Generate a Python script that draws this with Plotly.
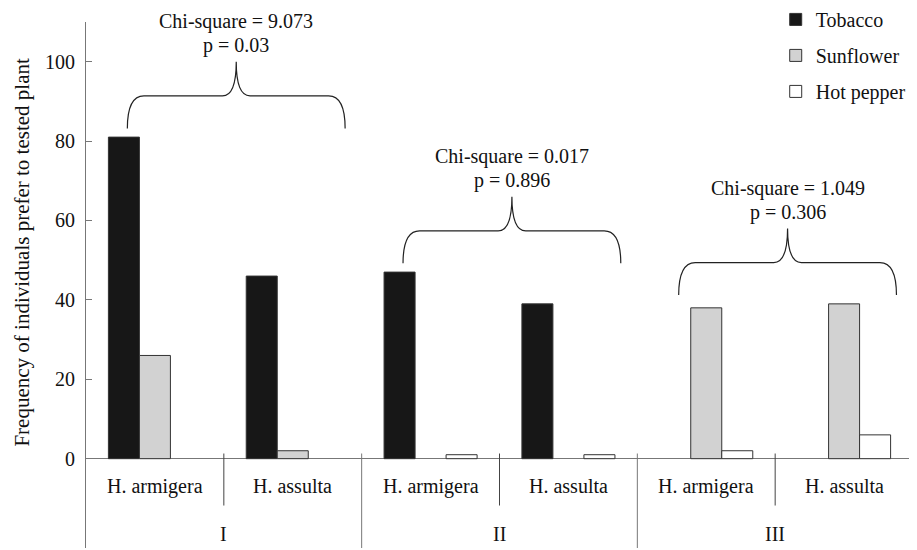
import plotly.graph_objects as go

# ---- data ----
groups = ["I", "II", "III"]
species = ["H. armigera", "H. assulta"]
plants = ["Tobacco", "Sunflower", "Hot pepper"]
tobacco = [81, 46, 47, 39, 0, 0]
sunflower = [26, 2, 0, 0, 38, 39]
hot_pepper = [0, 0, 1, 1, 2, 6]
chi_square = ["9.073", "0.017", "1.049"]
p_values = ["0.03", "0.896", "0.306"]
y_ticks = [0, 20, 40, 60, 80, 100]
y_title = "Frequency of individuals prefer to tested plant"

# ---- styling ----
FONT = "Times New Roman, Liberation Serif, DejaVu Serif, serif"
AX = "#777777"
TXT = "#111111"
fills = ["#171717", "#d2d2d2", "#ffffff"]
series = [tobacco, sunflower, hot_pepper]

n_cat = len(groups) * len(species)
xs = list(range(n_cat))

fig = go.Figure()
for name, vals, col in zip(plants, series, fills):
    fig.add_trace(go.Bar(
        x=xs, y=[v if v > 0 else None for v in vals], name=name,
        legendgroup=name,
        marker=dict(color=col, line=dict(color="#333333", width=1)),
    ))

shapes = []
annotations = []
YLO, YHI = -22.5, 110


def tfont(size=20):
    return dict(family=FONT, size=size, color=TXT)


# dividers between species (short) and groups (long)
for i in range(n_cat - 1):
    b = i + 0.5
    if (i + 1) % len(species) == 0:
        shapes.append(dict(type="line", xref="x", yref="y", x0=b, x1=b, y0=1.3, y1=YLO,
                           line=dict(color=AX, width=1)))
    else:
        shapes.append(dict(type="line", xref="x", yref="y", x0=b, x1=b, y0=1.3, y1=-11.8,
                           line=dict(color="#444444", width=1)))
shapes.append(dict(type="line", xref="x", yref="y", x0=n_cat - 0.5, x1=n_cat - 0.5, y0=1.3, y1=YLO,
                   line=dict(color=AX, width=1)))

# category labels
for i in range(n_cat):
    annotations.append(dict(x=i, y=-7.0, xref="x", yref="y", text=species[i % len(species)],
                            showarrow=False, font=tfont()))
for g, gname in enumerate(groups):
    c = g * len(species) + (len(species) - 1) / 2
    annotations.append(dict(x=c, y=-18.9, xref="x", yref="y", text=gname,
                            showarrow=False, font=tfont()))

# braces with statistics
for g in range(len(groups)):
    s = g * len(species) - 0.5
    idx = range(g * len(species), (g + 1) * len(species))
    top = max(max(ser[i] for ser in series) for i in idx)
    yb = top + 2.2
    yh = yb + 8.2
    yt = yb + 16.8
    x0, x1 = s + 0.3, s + 1.88
    xc = (x0 + x1) / 2
    r, r2 = 0.12, 0.10
    path = (f"M {x0},{yb} Q {x0},{yh} {x0 + r},{yh} L {xc - r2},{yh} "
            f"Q {xc},{yh} {xc},{yt} Q {xc},{yh} {xc + r2},{yh} "
            f"L {x1 - r},{yh} Q {x1},{yh} {x1},{yb}")
    shapes.append(dict(type="path", xref="x", yref="y", path=path,
                       line=dict(color="#222222", width=1.2)))
    annotations.append(dict(x=xc, y=yt + 4.0, xref="x", yref="y", text=f"p = {p_values[g]}",
                            showarrow=False, font=tfont()))
    annotations.append(dict(x=xc, y=yt + 4.0, yshift=24, xref="x", yref="y",
                            text=f"Chi-square = {chi_square[g]}",
                            showarrow=False, font=tfont()))

# y-axis title centred on the positive part of the axis
annotations.append(dict(x=-0.077, y=52, xref="paper", yref="y", text=y_title,
                        textangle=-90, xanchor="center", yanchor="middle",
                        showarrow=False, font=tfont(21)))

# the page body has an 8px margin, so the figure is sized/offset to compensate
fig.update_layout(
    width=909, height=542,
    margin=dict(l=78, r=4, t=14, b=2, autoexpand=False),
    paper_bgcolor="white", plot_bgcolor="white",
    barmode="group", bargap=0.325, bargroupgap=0,
    font=tfont(),
    shapes=shapes, annotations=annotations,
    showlegend=True,
    legend=dict(x=0.834, y=1.042, xanchor="left", yanchor="top",
                traceorder="grouped", tracegroupgap=7,
                font=tfont(), bgcolor="rgba(0,0,0,0)"),
    xaxis=dict(range=[-0.5, n_cat - 0.5], visible=False, fixedrange=True),
    yaxis=dict(range=[YLO, YHI], tickvals=y_ticks, ticks="inside", ticklen=6,
               tickcolor=AX, showline=True, linecolor=AX, linewidth=1,
               showgrid=False, zeroline=True, zerolinecolor=AX, zerolinewidth=1,
               ticklabelstandoff=6, automargin=False, tickfont=tfont()),
)

fig.write_html("out.html")
